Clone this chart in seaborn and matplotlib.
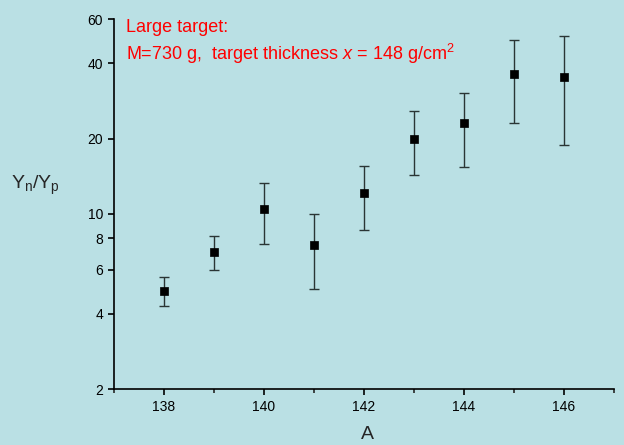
import numpy as np
import pandas as pd
import matplotlib
matplotlib.use("Agg")
import matplotlib.pyplot as plt
import matplotlib.ticker as mticker
import seaborn as sns

# Dados
mass_number = [138, 139, 140, 141, 142, 143, 144, 145, 146]
ratio = [4.94, 7.05, 10.45, 7.5, 12.1, 20.0, 23.0, 36.3, 35.1]
ratio_low = [4.28, 5.97, 7.56, 5.0, 8.63, 14.3, 15.4, 23.0, 18.8]
ratio_high = [5.58, 8.14, 13.3, 10.0, 15.5, 25.8, 30.5, 49.5, 51.4]

y_ticks = [2, 4, 6, 8, 10, 20, 40, 60]
x_major = [138, 140, 142, 144, 146]
x_minor = [137, 139, 141, 143, 145, 147]

BG = "#bae0e4"

sns.set_style("ticks")
plt.rcParams['font.family'] = ['Liberation Sans', 'DejaVu Sans']
plt.rcParams['mathtext.fontset'] = 'custom'
plt.rcParams['mathtext.rm'] = 'Liberation Sans'
plt.rcParams['mathtext.it'] = 'Liberation Sans:italic'

df = pd.DataFrame({'A': mass_number, 'ratio': ratio,
                   'low': ratio_low, 'high': ratio_high})

fig = plt.figure(figsize=(6.24, 4.45), dpi=100, facecolor=BG)
ax = fig.add_axes([0.1827, 0.1258, 0.8013, 0.8315])
ax.set_facecolor(BG)

# barras de erro assimétricas
yerr = np.vstack([df['ratio'] - df['low'], df['high'] - df['ratio']])
ax.errorbar(df['A'], df['ratio'], yerr=yerr, fmt='none', ecolor='#2a3535',
            elinewidth=1.0, capsize=3.3, capthick=1.0, zorder=2)
sns.scatterplot(data=df, x='A', y='ratio', marker='s', s=36, color='black',
                edgecolor='black', linewidth=0.5, ax=ax, zorder=3)

ax.set_yscale('log')
ax.set_ylim(2, 60)
ax.set_xlim(137, 147)
ax.yaxis.set_major_locator(mticker.FixedLocator(y_ticks))
ax.yaxis.set_major_formatter(mticker.FixedFormatter([str(t) for t in y_ticks]))
ax.yaxis.set_minor_locator(mticker.NullLocator())
ax.xaxis.set_major_locator(mticker.FixedLocator(x_major))
ax.xaxis.set_minor_locator(mticker.FixedLocator(x_minor))

for side in ['top', 'right']:
    ax.spines[side].set_visible(False)
for side in ['left', 'bottom']:
    ax.spines[side].set_linewidth(1.2)
    ax.spines[side].set_color('black')

ax.tick_params(axis='both', which='major', direction='out', length=4,
               width=1.2, labelsize=10, colors='black', pad=4)
ax.tick_params(axis='x', which='minor', direction='out', length=3, width=1.2)

ax.set_xlabel('A', fontsize=14, va='center')
ax.xaxis.set_label_coords(0.506, -0.124)
ax.set_ylabel(r'Y$_\mathrm{n}$/Y$_\mathrm{p}$', fontsize=14, rotation=0,
              va='center', ha='center')
ax.yaxis.set_label_coords(-0.158, 0.551)

ax.text(0.024, 0.976, 'Large target:', transform=ax.transAxes, color='red',
        fontsize=13, va='center', ha='left')
ax.text(0.024, 0.905, r'M=730 g,  target thickness $x$ = 148 g/cm$^2$',
        transform=ax.transAxes, color='red', fontsize=13, va='center', ha='left')

fig.savefig('out.png', dpi=100, facecolor=BG)
